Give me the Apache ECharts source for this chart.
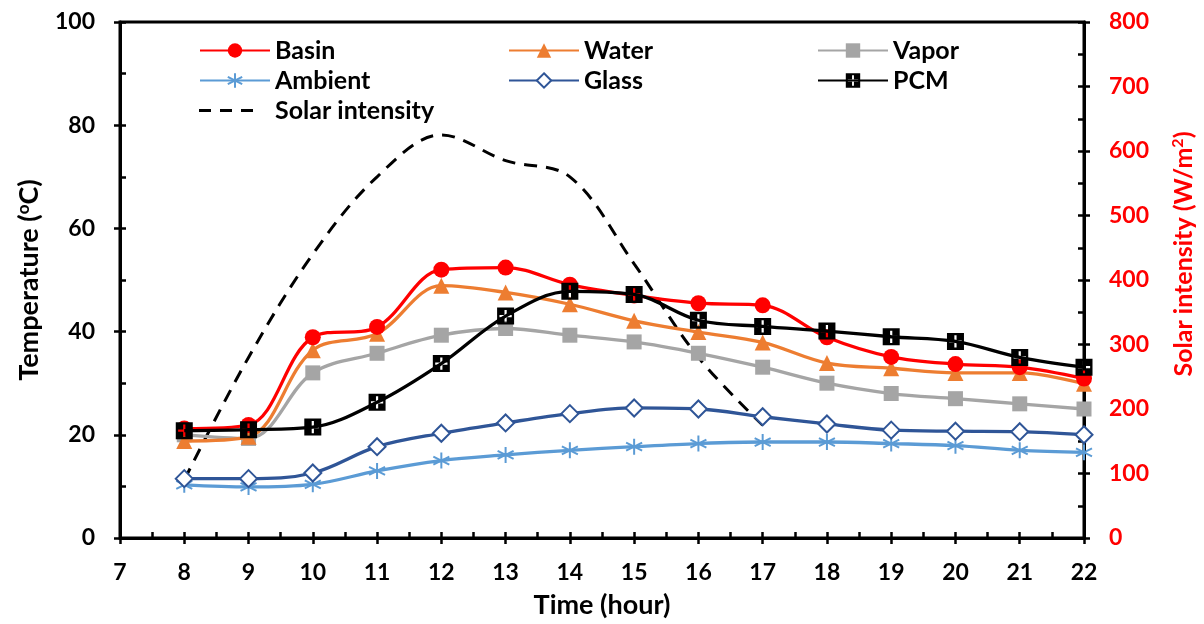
<!DOCTYPE html>
<html>
<head>
<meta charset="utf-8">
<script src="https://cdn.jsdelivr.net/npm/echarts@6/dist/echarts.min.js"></script>
<style>
  html, body { margin: 0; padding: 0; background: #ffffff; }
  #chart { width: 1204px; height: 624px; }
</style>
</head>
<body>
<div id="chart"></div>
<script>
// Hourly readings, 8:00 to 22:00
const hours   = [8, 9, 10, 11, 12, 13, 14, 15, 16, 17, 18, 19, 20, 21, 22];
const basin   = [21.2, 21.9, 38.9, 40.9, 52.0, 52.4, 49.1, 47.0, 45.5, 45.1, 38.9, 35.1, 33.7, 33.1, 30.9];
const water   = [18.8, 19.6, 36.4, 39.6, 48.9, 47.6, 45.3, 42.1, 39.9, 37.9, 33.9, 32.9, 32.0, 32.0, 29.9];
const vapor   = [20.0, 19.3, 32.0, 35.8, 39.3, 40.6, 39.3, 38.0, 35.8, 33.1, 30.0, 28.0, 27.0, 26.0, 25.0];
const ambient = [10.3, 9.9, 10.4, 13.0, 15.0, 16.1, 17.0, 17.7, 18.3, 18.6, 18.6, 18.3, 17.9, 17.0, 16.6];
const glass   = [11.5, 11.5, 12.6, 17.7, 20.3, 22.3, 24.1, 25.2, 25.0, 23.5, 22.1, 20.9, 20.7, 20.6, 20.0];
const pcm     = [20.8, 21.0, 21.5, 26.3, 33.8, 43.0, 47.8, 47.2, 42.2, 41.0, 40.1, 39.0, 38.1, 35.0, 33.1];

// Solar radiation, daylight hours only (W/m2)
const solarHours = [8, 9, 10, 11, 12, 13, 14, 15, 16, 17];
const solar      = [90, 280, 440, 560, 625, 585, 560, 425, 280, 175];

const FONT = 'Lato';
const pairs = (xs, ys) => xs.map((x, i) => [x, ys[i]]);

// Marker shapes
const asterisk = 'path://M0,-1L0,1M-0.87,-0.5L0.87,0.5M-0.87,0.5L0.87,-0.5';
// filled square with a plus-shaped hole (hole wound the other way)
const squarePlus = 'path://M-1,-1L1,-1L1,1L-1,1Z' +
  'M-0.13,-0.13L-0.72,-0.13L-0.72,0.13L-0.13,0.13L-0.13,0.72L0.13,0.72L0.13,0.13L0.72,0.13L0.72,-0.13L0.13,-0.13L0.13,-0.72L-0.13,-0.72Z';
// three-dash legend swatch for the dashed series
const dashIcon = 'path://M0,0H12V3H0Z M21,0H33V3H21Z M42,0H54V3H42Z';

const SMOOTH = 0.35;
const LW = 3.3;

const chart = echarts.init(document.getElementById('chart'), null, { renderer: 'canvas' });

const tickStyle = { color: '#000', width: 2.5 };
const labelStyle = { fontSize: 23, fontWeight: 'bold', fontFamily: FONT, color: '#000' };
const titleStyle = { fontSize: 27, fontWeight: 'bold', fontFamily: FONT, color: '#000' };

function legendItem(name, left, top, extra) {
  const item = {
    data: [name],
    left: left, top: top,
    orient: 'horizontal',
    padding: 0,
    itemWidth: 70, itemHeight: 18,
    itemGap: 0,
    selectedMode: false,
    textStyle: { fontSize: 25, fontWeight: 'bold', fontFamily: FONT, color: '#000' }
  };
  return Object.assign(item, extra || {});
}

const option = {
  animation: false,
  backgroundColor: '#ffffff',
  grid: {
    left: 120, right: 116, top: 22, bottom: 84,
    show: true, borderColor: '#000', borderWidth: 3, backgroundColor: 'transparent'
  },
  legend: [
    legendItem('Basin', 199, 38),
    legendItem('Water', 508, 38),
    legendItem('Vapor', 817, 38),
    legendItem('Ambient', 199, 68),
    legendItem('Glass', 508, 68),
    legendItem('PCM', 817, 68),
    legendItem('Solar intensity', 199, 98, {
      data: [{ name: 'Solar intensity', icon: dashIcon }],
      itemWidth: 54, itemHeight: 3,
      textStyle: { fontSize: 25, fontWeight: 'bold', fontFamily: FONT, color: '#000', padding: [0, 0, 0, 17] }
    })
  ],
  xAxis: [
    {
      type: 'value', min: 7, max: 22, interval: 1, position: 'bottom',
      axisLine: { onZero: false, lineStyle: { color: '#000', width: 3 } },
      axisTick: { inside: false, length: 6, lineStyle: tickStyle },
      axisLabel: Object.assign({ margin: 23 }, labelStyle),
      splitLine: { show: false },
      name: 'Time (hour)', nameLocation: 'middle', nameGap: 54,
      nameTextStyle: titleStyle
    },
    {
      type: 'value', min: 7, max: 22, interval: 1, position: 'bottom',
      axisLine: { show: false, onZero: false },
      axisTick: { inside: true, length: 6, lineStyle: tickStyle },
      minorTick: { show: true, splitNumber: 2, length: 6, lineStyle: tickStyle },
      axisLabel: { show: false },
      splitLine: { show: false }
    }
  ],
  yAxis: [
    {
      type: 'value', min: 0, max: 100, interval: 20, position: 'left',
      axisLine: { show: true, lineStyle: { color: '#000', width: 3 } },
      axisTick: { show: true, inside: false, length: 6, lineStyle: tickStyle },
      axisLabel: Object.assign({ margin: 25 }, labelStyle),
      splitLine: { show: false },
      name: 'Temperature ({s|o}C)', nameLocation: 'middle', nameGap: 76,
      nameTextStyle: Object.assign({
        rich: { s: { fontSize: 17, fontWeight: 'bold', fontFamily: FONT, color: '#000', padding: [0, 0, 12, 0] } }
      }, titleStyle)
    },
    {
      type: 'value', min: 0, max: 800, interval: 100, position: 'right',
      axisLine: { show: true, lineStyle: { color: '#000', width: 3 } },
      axisTick: { show: true, inside: false, length: 6, lineStyle: tickStyle },
      axisLabel: Object.assign({}, labelStyle, { margin: 25, color: '#ff0000' }),
      splitLine: { show: false },
      name: 'Solar intensity (W/m{s|2})', nameLocation: 'middle', nameGap: 86,
      nameTextStyle: Object.assign({}, titleStyle, {
        fontSize: 25,
        color: '#ff0000',
        padding: [0, 0, 0, 52],
        rich: { s: { fontSize: 16, fontWeight: 'bold', fontFamily: FONT, color: '#ff0000', padding: [0, 0, 11, 0] } }
      })
    },
    {
      type: 'value', min: 0, max: 100, interval: 20, position: 'left',
      axisLine: { show: false },
      axisTick: { show: true, inside: true, length: 6, lineStyle: tickStyle },
      minorTick: { show: true, splitNumber: 2, length: 6, lineStyle: tickStyle },
      axisLabel: { show: false },
      splitLine: { show: false }
    },
    {
      type: 'value', min: 0, max: 800, interval: 100, position: 'right',
      axisLine: { show: false },
      axisTick: { show: true, inside: true, length: 6, lineStyle: tickStyle },
      minorTick: { show: true, splitNumber: 2, length: 6, lineStyle: tickStyle },
      axisLabel: { show: false },
      splitLine: { show: false }
    }
  ],
  series: [
    {
      name: 'Solar intensity', type: 'line', xAxisIndex: 0, yAxisIndex: 1,
      data: pairs(solarHours, solar), smooth: SMOOTH, showSymbol: false, symbol: 'none',
      lineStyle: { color: '#000', width: 3, type: [13, 9] },
      itemStyle: { color: '#000' }, z: 1
    },
    {
      name: 'Ambient', type: 'line', xAxisIndex: 0, yAxisIndex: 0,
      data: pairs(hours, ambient), smooth: SMOOTH,
      symbol: asterisk, symbolSize: 16,
      lineStyle: { color: '#5B9BD5', width: LW },
      itemStyle: { color: '#5B9BD5', borderColor: '#5B9BD5', borderWidth: 2 }, z: 2
    },
    {
      name: 'Glass', type: 'line', xAxisIndex: 0, yAxisIndex: 0,
      data: pairs(hours, glass), smooth: SMOOTH,
      symbol: 'diamond', symbolSize: 17,
      lineStyle: { color: '#2F5597', width: LW },
      itemStyle: { color: '#ffffff', borderColor: '#2F5597', borderWidth: 2 }, z: 3
    },
    {
      name: 'Vapor', type: 'line', xAxisIndex: 0, yAxisIndex: 0,
      data: pairs(hours, vapor), smooth: SMOOTH,
      symbol: 'rect', symbolSize: 15,
      lineStyle: { color: '#A5A5A5', width: LW },
      itemStyle: { color: '#A5A5A5' }, z: 4
    },
    {
      name: 'Water', type: 'line', xAxisIndex: 0, yAxisIndex: 0,
      data: pairs(hours, water), smooth: SMOOTH,
      symbol: 'triangle', symbolSize: 16,
      lineStyle: { color: '#ED7D31', width: LW },
      itemStyle: { color: '#ED7D31' }, z: 5
    },
    {
      name: 'Basin', type: 'line', xAxisIndex: 0, yAxisIndex: 0,
      data: pairs(hours, basin), smooth: SMOOTH,
      symbol: 'circle', symbolSize: 16,
      lineStyle: { color: '#FF0000', width: LW },
      itemStyle: { color: '#FF0000' }, z: 6
    },
    {
      name: 'PCM', type: 'line', xAxisIndex: 0, yAxisIndex: 0,
      data: pairs(hours, pcm), smooth: SMOOTH,
      symbol: squarePlus, symbolSize: 17,
      lineStyle: { color: '#000000', width: LW },
      itemStyle: { color: '#000000' }, z: 7
    }
  ]
};

chart.setOption(option);
</script>
</body>
</html>
